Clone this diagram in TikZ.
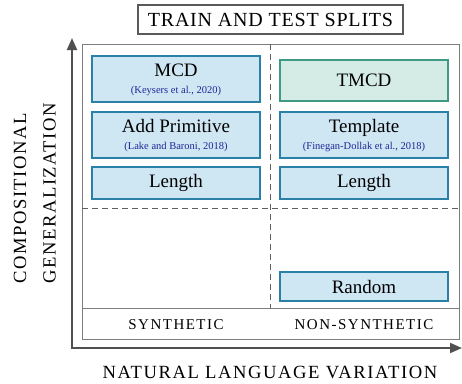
\documentclass[tikz,border=0pt]{standalone}
\usepackage{fontspec}
\setmainfont{Liberation Serif}
\newfontfamily\spacedA[LetterSpace=4]{Liberation Serif}
\newfontfamily\spacedB[LetterSpace=8.5]{Liberation Serif}
\newfontfamily\spacedC[LetterSpace=10]{Liberation Serif}
\usetikzlibrary{arrows.meta}
\definecolor{bfill}{RGB}{207,230,243}
\definecolor{bdraw}{RGB}{43,128,168}
\definecolor{gfill}{RGB}{212,236,229}
\definecolor{gdraw}{RGB}{63,154,133}
\definecolor{citec}{RGB}{30,40,150}
\definecolor{framec}{RGB}{125,125,125}
\definecolor{dashc}{RGB}{95,95,95}
\definecolor{axisc}{RGB}{80,80,80}
\definecolor{titlec}{RGB}{90,90,90}
\begin{document}
\begin{tikzpicture}[x=1pt,y=-1pt,
  bluebox/.style={draw=bdraw,fill=bfill,line width=1.5pt,minimum width=168pt,inner sep=0pt},
  greenbox/.style={draw=gdraw,fill=gfill,line width=1.5pt,minimum width=168pt,inner sep=0pt},
  maintext/.style={font=\fontsize{19}{22}\selectfont,inner sep=0pt},
  citetext/.style={font=\fontsize{10.5}{12}\selectfont,text=citec,inner sep=0pt},
  sectext/.style={font=\spacedC\fontsize{15}{18}\selectfont,inner sep=0pt},
  axlabel/.style={font=\spacedB\fontsize{18.6}{22}\selectfont,inner sep=0pt},
  axisline/.style={draw=axisc,line width=2pt,-{Triangle[length=12pt,width=10pt]}},
  dashline/.style={draw=dashc,line width=0.9pt,dash pattern=on 6pt off 4pt}
]
\useasboundingbox (0,0) rectangle (462,383);
% title
\node[draw=titlec,line width=1.1pt,minimum width=265pt,minimum height=29pt,inner sep=0pt,
  font=\spacedA\fontsize{20}{24}\selectfont] (title) at (270.5,19.5) {TRAIN AND TEST SPLITS};
% frame
\draw[framec,line width=1pt] (82,44) rectangle (459.5,339);
\draw[framec,line width=1pt] (82,308) -- (459.5,308);
\draw[dashline] (270,44) -- (270,308);
\draw[dashline] (82,208) -- (459.5,208);
% axes
\coordinate (origin) at (72,348);
\coordinate (ytip) at (72,38);
\coordinate (xtip) at (462,348);
\draw[axisline] (72,349) -- (ytip);
\draw[axisline] (71,348) -- (xtip);
% left boxes
\node[bluebox,minimum height=46pt] (mcd) at (176,79) {};
\node[maintext,anchor=base] (mcdt) at (176,76) {MCD};
\node[citetext,anchor=base] (mcdc) at (176,93.5) {(Keysers et al., 2020)};
\node[bluebox,minimum height=46pt] (addp) at (176,135) {};
\node[maintext,anchor=base] (addpt) at (176,132) {Add Primitive};
\node[citetext,anchor=base] (addpc) at (176,149) {(Lake and Baroni, 2018)};
\node[bluebox,minimum height=32pt,maintext] (lenl) at (176,183) {Length};
% right boxes
\node[greenbox,minimum height=41pt,maintext] (tmcd) at (364,80.5) {TMCD};
\node[bluebox,minimum height=46pt] (tmpl) at (364,135) {};
\node[maintext,anchor=base] (tmplt) at (364,132) {Template};
\node[citetext,anchor=base] (tmplc) at (364,149) {(Finegan-Dollak et al., 2018)};
\node[bluebox,minimum height=32pt,maintext] (lenr) at (364,183) {Length};
\node[bluebox,minimum height=29pt,maintext] (rand) at (364,286.5) {Random};
% bottom labels
\node[sectext,anchor=base] (syn) at (176,329) {SYNTHETIC};
\node[sectext,anchor=base] (nonsyn) at (364,329) {NON-SYNTHETIC};
% axis labels
\node[axlabel,anchor=base] (xlab) at (270,378.3) {NATURAL LANGUAGE VARIATION};
\node[axlabel,anchor=base west,rotate=90] (ylab1) at (26,284) {COMPOSITIONAL};
\node[axlabel,anchor=base west,rotate=90] (ylab2) at (55.5,284) {GENERALIZATION};
\end{tikzpicture}
\end{document}
